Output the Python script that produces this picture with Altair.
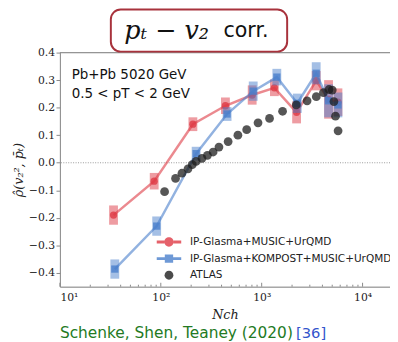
import altair as alt
import pandas as pd

W, H = 337, 239

red_n = [34, 86, 208, 437, 805, 1336, 2218, 3470, 4600, 5700]
red_v = [-0.19, -0.067, 0.14, 0.207, 0.246, 0.272, 0.183, 0.298, 0.23, 0.22]
red_e = [0.035, 0.03, 0.025, 0.03, 0.035, 0.03, 0.04, 0.035, 0.07, 0.05]

blue_n = [35, 91, 224, 454, 824, 1413, 2254, 3470, 4600, 5700]
blue_v = [-0.386, -0.23, 0.033, 0.177, 0.26, 0.311, 0.216, 0.325, 0.225, 0.21]
blue_e = [0.035, 0.035, 0.025, 0.025, 0.035, 0.03, 0.035, 0.04, 0.06, 0.045]

atlas_n = [109, 140, 162, 186, 205, 224, 256, 290, 330, 377, 465, 581, 710, 920,
           1196, 1611, 2203, 2818, 3478, 4093, 4645, 5005, 5198, 5389, 5717]
atlas_v = [-0.105, -0.057, -0.038, -0.022, -0.007, 0.005, 0.016, 0.027, 0.039, 0.057,
           0.077, 0.100, 0.120, 0.145, 0.161, 0.187, 0.210, 0.225, 0.240, 0.255,
           0.266, 0.264, 0.222, 0.169, 0.116]

series_names = ["IP-Glasma+MUSIC+UrQMD", "IP-Glasma+KOMPOST+MUSIC+UrQMD", "ATLAS"]
major_ticks = [10, 100, 1000, 10000]
minor_ticks = [m * 10 ** k for k in (1, 2, 3) for m in range(2, 10)]
y_ticks = [-0.4, -0.3, -0.2, -0.1, 0.0, 0.1, 0.2, 0.3, 0.4]

RED = "#de3a45"
BLUE = "#4a7fcc"
BLACK = "#1e1e1e"

xs = alt.Scale(type="log", domain=[10, 18700], nice=False)
ys = alt.Scale(domain=[-0.45, 0.4], nice=False)

x_axis = alt.Axis(
    values=major_ticks, ticks=False, grid=False, domainColor="#888",
    labelExpr="datum.value == 10 ? '10¹' : datum.value == 100 ? '10²' : datum.value == 1000 ? '10³' : '10⁴'",
    labelFont="DejaVu Serif", labelFontSize=11, labelColor="#222", labelPadding=5,
    title="Nch", titleFont="DejaVu Serif", titleFontStyle="italic", titleFontWeight="normal",
    titleFontSize=13, titleColor="#222", titlePadding=6,
)
y_axis = alt.Axis(
    values=y_ticks, format=".1f", labelOverlap=False, tickCount=9,
    grid=False, domainColor="#888", tickColor="#888", tickSize=4,
    labelFont="DejaVu Serif", labelFontSize=11, labelColor="#222", labelPadding=1.5,
    title="ρ̂(v₂², p̄ₜ)", titleFont="DejaVu Serif", titleFontStyle="italic",
    titleFontWeight="normal", titleFontSize=13, titleColor="#222", titlePadding=3,
)


def X(f):
    return alt.X(f, type="quantitative", scale=xs, axis=x_axis)


def Y(f):
    return alt.Y(f, type="quantitative", scale=ys, axis=y_axis)


def model_layers(n, v, e, color, shape):
    df = pd.DataFrame({"n": n, "v": v, "lo": [a - b for a, b in zip(v, e)],
                       "hi": [a + b for a, b in zip(v, e)]})
    base = alt.Chart(df)
    boxes = base.mark_rule(strokeWidth=9, opacity=0.5, color=color).encode(
        x=X("n"), y=Y("lo"), y2="hi:Q")
    line = base.mark_line(strokeWidth=2.5, opacity=0.6, color=color).encode(x=X("n"), y=Y("v"))
    pts = base.mark_point(filled=True, size=55, opacity=0.8, color=color, shape=shape).encode(
        x=X("n"), y=Y("v"))
    return [boxes, line, pts]


zero = alt.Chart(pd.DataFrame({"y": [0.0]})).mark_rule(
    strokeDash=[1, 1.5], color="#999", strokeWidth=1).encode(y=Y("y"))

atlas = alt.Chart(pd.DataFrame({"n": atlas_n, "v": atlas_v})).mark_circle(
    size=80, opacity=0.75, color=BLACK).encode(x=X("n"), y=Y("v"))

stub_c = "M-2.5,-0.3L-0.95,-0.3L-0.95,0.3L-2.5,0.3Z M0.95,-0.3L2.5,-0.3L2.5,0.3L0.95,0.3Z "
circ = "M-0.95,0A0.95,0.95 0 1,0 0.95,0A0.95,0.95 0 1,0 -0.95,0Z"
stub_s = "M-2.5,-0.3L-0.85,-0.3L-0.85,0.3L-2.5,0.3Z M0.85,-0.3L2.5,-0.3L2.5,0.3L0.85,0.3Z "
sq = "M-0.85,-0.85L0.85,-0.85L0.85,0.85L-0.85,0.85Z"
dot = "M-0.9,0A0.9,0.9 0 1,0 0.9,0A0.9,0.9 0 1,0 -0.9,0Z"
paths = [stub_c + circ, stub_s + sq, dot]

leg = alt.Legend(orient="none", legendX=106, legendY=188, title=None, symbolSize=100,
                 symbolStrokeWidth=0, labelFont="DejaVu Sans", labelFontSize=10.7,
                 labelColor="#222", labelOffset=16, labelLimit=0, rowPadding=5,
                 symbolOpacity=0.8)
legend_layer = alt.Chart(pd.DataFrame({"s": series_names, "n": [100] * 3, "v": [-1.0] * 3})).mark_point(
    filled=True, clip=True, size=100, opacity=0.8).encode(
    x=X("n"), y=Y("v"),
    color=alt.Color("s:N", scale=alt.Scale(domain=series_names, range=[RED, BLUE, BLACK]), legend=leg),
    shape=alt.Shape("s:N", scale=alt.Scale(domain=series_names, range=paths), legend=leg),
)

major_df = pd.DataFrame({"n": major_ticks})
minor_df = pd.DataFrame({"n": minor_ticks})
maj = alt.Chart(major_df).mark_rule(color="#888").encode(
    x=X("n"), y=alt.value(H), y2=alt.value(H - 4))
mino = alt.Chart(minor_df).mark_rule(color="#888").encode(
    x=X("n"), y=alt.value(H), y2=alt.value(H - 2))

one = pd.DataFrame({"a": [0]})
top_line = alt.Chart(one).mark_rule(color="#888").encode(
    x=alt.value(0), x2=alt.value(W + 2), y=alt.value(0))

txt1 = alt.Chart(one).mark_text(text="Pb+Pb 5020 GeV", align="left", baseline="middle",
                                font="DejaVu Sans", fontSize=13.7, color="#111").encode(
    x=alt.value(12), y=alt.value(23))
txt2 = alt.Chart(one).mark_text(text="0.5 < pT < 2 GeV", align="left", baseline="middle",
                                font="DejaVu Sans", fontSize=13.7, color="#111").encode(
    x=alt.value(12), y=alt.value(42))

box = alt.Chart(one).mark_rect(cornerRadius=10, fill="white", stroke="#a8323c", strokeWidth=2).encode(
    x=alt.value(52), x2=alt.value(232), y=alt.value(-44), y2=alt.value(-1))
t_math = alt.Chart(one).mark_text(text="pₜ − v₂", align="center", baseline="middle",
                                  font="DejaVu Serif", fontStyle="italic", fontSize=26, color="#111").encode(
    x=alt.value(109), y=alt.value(-22))
t_corr = alt.Chart(one).mark_text(text="corr.", align="left", baseline="middle",
                                  font="DejaVu Sans", fontSize=21, color="#111").encode(
    x=alt.value(167), y=alt.value(-22))

cite1 = alt.Chart(one).mark_text(text="Schenke, Shen, Teaney (2020)", align="left", baseline="alphabetic",
                                 font="DejaVu Sans", fontSize=15.7, color="#237a23").encode(
    x=alt.value(0), y=alt.value(291))
cite2 = alt.Chart(one).mark_text(text="[36]", align="left", baseline="alphabetic",
                                 font="DejaVu Sans", fontSize=15, color="#3355cc").encode(
    x=alt.value(241), y=alt.value(291))

layers = [zero] + model_layers(red_n, red_v, red_e, RED, "circle") + \
    model_layers(blue_n, blue_v, blue_e, BLUE, "square") + \
    [atlas, legend_layer, maj, mino, top_line, txt1, txt2, box, t_math, t_corr, cite1, cite2]

chart = alt.layer(*layers).properties(
    width=W, height=H,
    autosize=alt.AutoSizeParams(type="none"),
    padding={"left": 53, "top": 42, "right": 0, "bottom": 56},
).configure_view(stroke=None).configure(background="white")

chart.save("out.html", embed_options={"renderer": "svg", "actions": False})
